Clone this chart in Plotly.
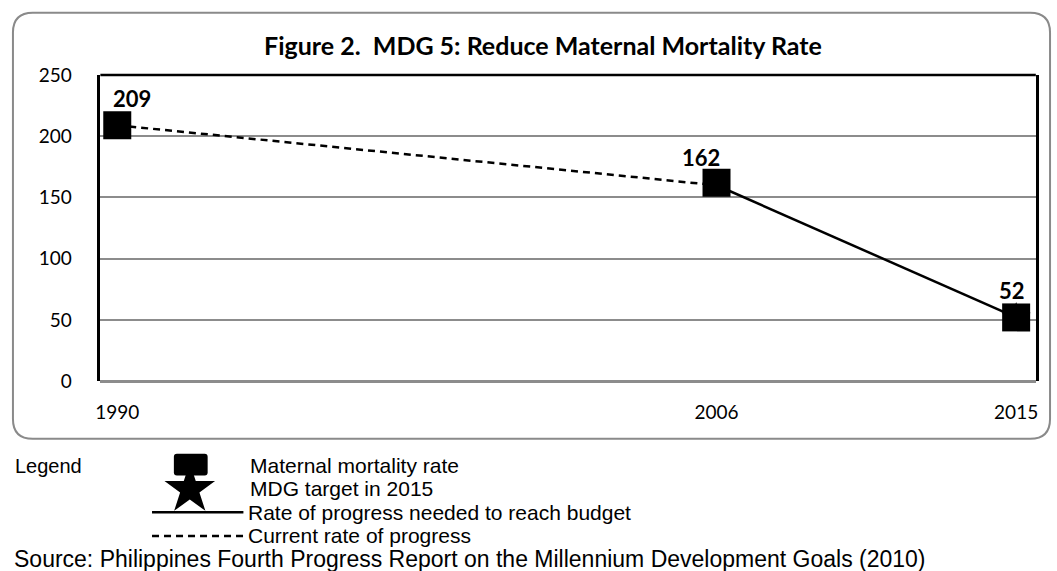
import plotly.graph_objects as go

# ---- data ----
categories = ["1990", " ", "2006", "2015"]
years = ["1990", "2006", "2015"]
mmr = [209, 162, 52]
current_years = ["1990", "2006"]
current_vals = [209, 160]
needed_years = ["2006", "2015"]
needed_vals = [160, 52]
target_year = ["2015"]
target_val = [52]
y_ticks = [0, 50, 100, 150, 200, 250]

title_text = "Figure 2.  MDG 5: Reduce Maternal Mortality Rate"
legend_items = ["Maternal mortality rate", "MDG target in 2015",
                "Rate of progress needed to reach budget", "Current rate of progress"]
source_text = "Source: Philippines Fourth Progress Report on the Millennium Development Goals (2010)"

W, H = 1057, 571
# empirical vertical mapping of the rendered page
V_OFF, V_H = 9.3, 553.0


def px(x):
    return x / W


def py(y):
    return 1 - (y - V_OFF) / V_H


CAL = "Lato, 'Open Sans', sans-serif"
ARIAL = "'Liberation Sans', Arial, sans-serif"

fig = go.Figure()

fig.add_trace(go.Scatter(x=current_years, y=current_vals, mode="lines",
                         line=dict(color="black", width=2.5, dash="7px,5px"),
                         hoverinfo="skip", showlegend=False))
fig.add_trace(go.Scatter(x=needed_years, y=needed_vals, mode="lines",
                         line=dict(color="black", width=2.5),
                         hoverinfo="skip", showlegend=False))
fig.add_trace(go.Scatter(x=target_year, y=target_val, mode="markers",
                         marker=dict(symbol="star", size=22, color="black"),
                         hoverinfo="skip", showlegend=False))
fig.add_trace(go.Scatter(x=years, y=mmr, mode="markers",
                         marker=dict(symbol="square", size=28, color="black"),
                         hoverinfo="skip", showlegend=False))

# legend star in an overlay pixel-space axis
fig.add_trace(go.Scatter(x=[186], y=[491], xaxis="x2", yaxis="y2", mode="markers",
                         marker=dict(symbol="star", size=38, color="black"),
                         hoverinfo="skip", showlegend=False))

annotations = []
label_shift = [(15, 27), (-16, 25), (-4, 27)]
for yr, v, (dx, dy) in zip(years, mmr, label_shift):
    annotations.append(dict(x=categories.index(yr), y=v, xref="x", yref="y",
                            text="<b>%d</b>" % v, showarrow=False, xshift=dx, yshift=dy,
                            yanchor="middle", xanchor="center",
                            font=dict(family=CAL, size=22, color="black")))

shapes = []


def rounded(x0, y0, x1, y1, r):
    return ("M {a},{b} L {c},{b} Q {d},{b} {d},{e} L {d},{f} Q {d},{g} {c},{g} "
            "L {a},{g} Q {h},{g} {h},{f} L {h},{e} Q {h},{b} {a},{b} Z").format(
        a=px(x0 + r), b=py(y0), c=px(x1 - r), d=px(x1), e=py(y0 + r),
        f=py(y1 - r), g=py(y1), h=px(x0))


shapes.append(dict(type="path", xref="paper", yref="paper", path=rounded(8, 10, 1052, 440, 20),
                   line=dict(color="#8a8a8a", width=2), fillcolor="rgba(0,0,0,0)", layer="below"))
shapes.append(dict(type="line", xref="x domain", yref="y domain", x0=0, x1=1, y0=1, y1=1,
                   line=dict(color="black", width=2.5)))
shapes.append(dict(type="path", xref="paper", yref="paper", path=rounded(170, 455, 204, 477, 3),
                   line=dict(width=0), fillcolor="black"))
shapes.append(dict(type="line", xref="paper", yref="paper", x0=px(148), x1=px(240),
                   y0=py(514), y1=py(514), line=dict(color="black", width=2.5)))
shapes.append(dict(type="line", xref="paper", yref="paper", x0=px(148), x1=px(240),
                   y0=py(538), y1=py(538), line=dict(color="black", width=2.5, dash="7px,5px")))

annotations.append(dict(text="<b>" + title_text + "</b>", x=px(542), y=py(43), xref="paper", yref="paper",
                        xanchor="center", yanchor="middle", showarrow=False,
                        font=dict(family=CAL, size=25, color="black")))
annotations.append(dict(text="Legend", x=px(8), y=py(467), xref="paper", yref="paper",
                        xanchor="left", yanchor="middle", showarrow=False,
                        font=dict(family=ARIAL, size=20, color="black")))
legend_pos = [(245, 467), (245, 490), (243, 514), (243, 538)]
for t, (lx, ly) in zip(legend_items, legend_pos):
    annotations.append(dict(text=t, x=px(lx), y=py(ly), xref="paper", yref="paper",
                            xanchor="left", yanchor="middle", showarrow=False,
                            font=dict(family=ARIAL, size=21, color="black")))
annotations.append(dict(text=source_text, x=px(7), y=py(561), xref="paper", yref="paper",
                        xanchor="left", yanchor="middle", showarrow=False,
                        font=dict(family=ARIAL, size=23, color="black")))

fig.update_layout(
    width=W, height=H,
    margin=dict(l=0, r=0, t=0, b=0),
    paper_bgcolor="white", plot_bgcolor="rgba(0,0,0,0)",
    showlegend=False,
    shapes=shapes,
    annotations=annotations,
    xaxis=dict(type="category", categoryorder="array", categoryarray=categories,
               range=[-0.0564, 3.0657], domain=[px(96), px(1037.7)],
               showgrid=False, zeroline=False, showline=False,
               ticks="", ticklabelstandoff=18, anchor="y",
               tickfont=dict(family=CAL, size=19, color="black"), fixedrange=True),
    yaxis=dict(range=[0, 250], domain=[py(381.7), py(73)], tickvals=y_ticks,
               showgrid=True, gridcolor="#8c8c8c", gridwidth=2,
               zeroline=True, zerolinecolor="#8c8c8c", zerolinewidth=2.5,
               showline=True, linecolor="black", linewidth=2.5, mirror=True,
               ticks="", ticklabelstandoff=22, anchor="x",
               tickfont=dict(family=CAL, size=19, color="black"), fixedrange=True),
    xaxis2=dict(domain=[0, 1], range=[0, W], visible=False, anchor="y2", fixedrange=True),
    yaxis2=dict(domain=[0, 1], range=[V_OFF + V_H, V_OFF], visible=False, anchor="x2", fixedrange=True),
)

fig.write_html("out.html", config={"displayModeBar": False},
               post_script="document.body.style.margin='0';document.body.style.overflow='hidden';")
